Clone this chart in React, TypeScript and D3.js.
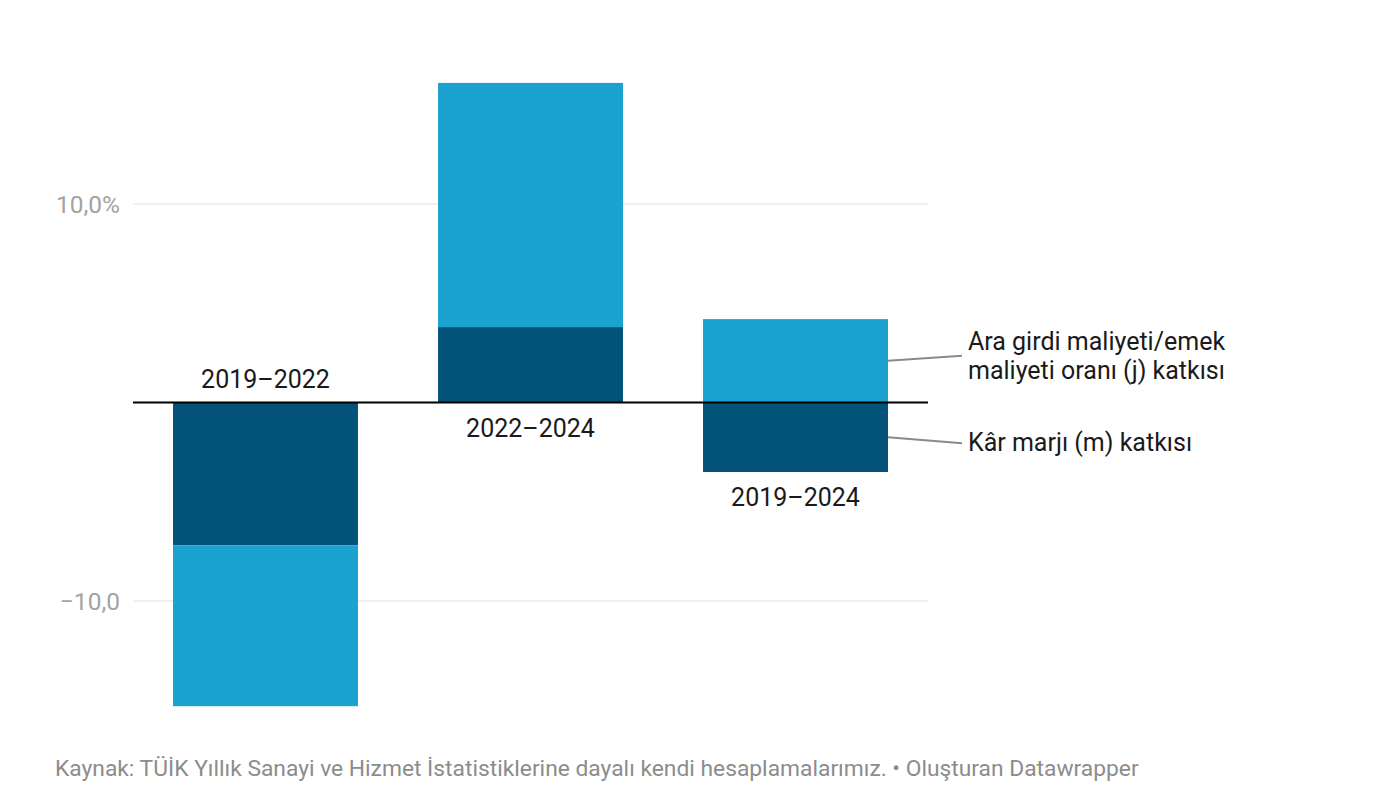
import React, { useEffect, useRef } from 'react';
import * as d3 from 'd3';

const periods = ['2019–2022', '2022–2024', '2019–2024'];
const karMarji = [-7.2, 3.8, -3.5];
const araGirdi = [-8.1, 12.3, 4.2];
const yTicks = [-10, 10];
const seriesNames = {
	m: 'Kâr marjı (m) katkısı',
	j: ['Ara girdi maliyeti/emek', 'maliyeti oranı (j) katkısı'],
};
const source = 'Kaynak: TÜİK Yıllık Sanayi ve Hizmet İstatistiklerine dayalı kendi hesaplamalarımız. • Oluşturan Datawrapper';

const colors: Record<string, string> = { m: '#03527a', j: '#1ca2ce' };

function Chart(): JSX.Element {
	const ref = useRef<SVGSVGElement | null>(null);
	useEffect(() => {
		if (!ref.current) return;
		const width = 1380;
		const height = 810;
		const svg = d3.select(ref.current);
		svg.selectAll('*').remove();
		svg.attr('viewBox', `0 0 ${width} ${height}`);
		const font = 'Roboto, "Noto Sans", sans-serif';

		const rows = periods.map((p, i) => ({ period: p, m: karMarji[i], j: araGirdi[i] }));
		const stacked = d3.stack<any>().keys(['m', 'j']).offset(d3.stackOffsetDiverging)(rows);

		const x = d3.scaleBand<string>().domain(periods).range([133, 928]).paddingInner(0.302).paddingOuter(0.151);
		const y = d3.scaleLinear().domain([-10, 10]).range([601, 204]);

		const g = svg.append('g').style('font-family', font);

		// grid
		g.selectAll('line.grid').data(yTicks).enter().append('line')
			.attr('x1', 133).attr('x2', 928).attr('y1', d => y(d)).attr('y2', d => y(d))
			.attr('stroke', '#e1e1e1').attr('stroke-width', 1.2);
		g.selectAll('text.tick').data(yTicks).enter().append('text')
			.attr('x', 120).attr('y', d => y(d)).attr('text-anchor', 'end').attr('dy', '0.35em')
			.attr('fill', '#a3a3a3').style('font-size', '24.5px')
			.text(d => (d > 0 ? `${d3.format('.1f')(d).replace('.', ',')}%` : `−${d3.format('.1f')(-d).replace('.', ',')}`));

		// bars
		stacked.forEach(s => {
			g.selectAll(`rect.${s.key}`).data(s).enter().append('rect')
				.attr('x', (d: any) => x(d.data.period) || 0)
				.attr('width', x.bandwidth())
				.attr('y', (d: any) => y(Math.max(d[0], d[1])))
				.attr('height', (d: any) => Math.abs(y(d[0]) - y(d[1])))
				.attr('fill', colors[s.key]);
		});

		// zero line
		g.append('line').attr('x1', 133).attr('x2', 928).attr('y1', y(0)).attr('y2', y(0))
			.attr('stroke', '#000').attr('stroke-width', 2);

		// category labels: below the negative part when the bar has a positive part, else above zero
		rows.forEach(r => {
			const hasPos = r.m > 0 || r.j > 0;
			const neg = Math.min(0, r.m) + Math.min(0, r.j);
			const ly = hasPos ? y(neg) + 34 : y(0) - 15;
			g.append('text').attr('x', (x(r.period) || 0) + x.bandwidth() / 2).attr('y', ly)
				.attr('text-anchor', 'middle').attr('fill', '#1a1a1a').style('font-size', '25px').text(r.period);
		});

		// direct legend on last bar
		const last = rows[rows.length - 1];
		const lx = (x(last.period) || 0) + x.bandwidth();
		const jMid = y(last.j / 2);
		const mMid = y(last.m / 2);
		g.append('line').attr('x1', lx).attr('x2', lx + 74).attr('y1', jMid).attr('y2', jMid - 5)
			.attr('stroke', '#8a8a8a').attr('stroke-width', 2);
		g.append('line').attr('x1', lx).attr('x2', lx + 74).attr('y1', mMid).attr('y2', mMid + 6)
			.attr('stroke', '#8a8a8a').attr('stroke-width', 2);
		const jt = g.append('text').attr('x', lx + 80).attr('y', jMid - 11).attr('fill', '#1a1a1a').style('font-size', '25px');
		seriesNames.j.forEach((t, i) => {
			jt.append('tspan').attr('x', lx + 80).attr('dy', i === 0 ? 0 : 29.5).text(t);
		});
		g.append('text').attr('x', lx + 80).attr('y', mMid + 14).attr('fill', '#1a1a1a').style('font-size', '25px').text(seriesNames.m);

		// footer
		g.append('text').attr('x', 55).attr('y', 776).attr('fill', '#8c8c8c').style('font-size', '22.8px').text(source);
	}, []);
	return <svg ref={ref} width={1380} height={810} style={{ position: 'absolute', left: 0, top: 0, background: '#fff' }} />;
}

export default function App(): JSX.Element {
	return <Chart />;
}
